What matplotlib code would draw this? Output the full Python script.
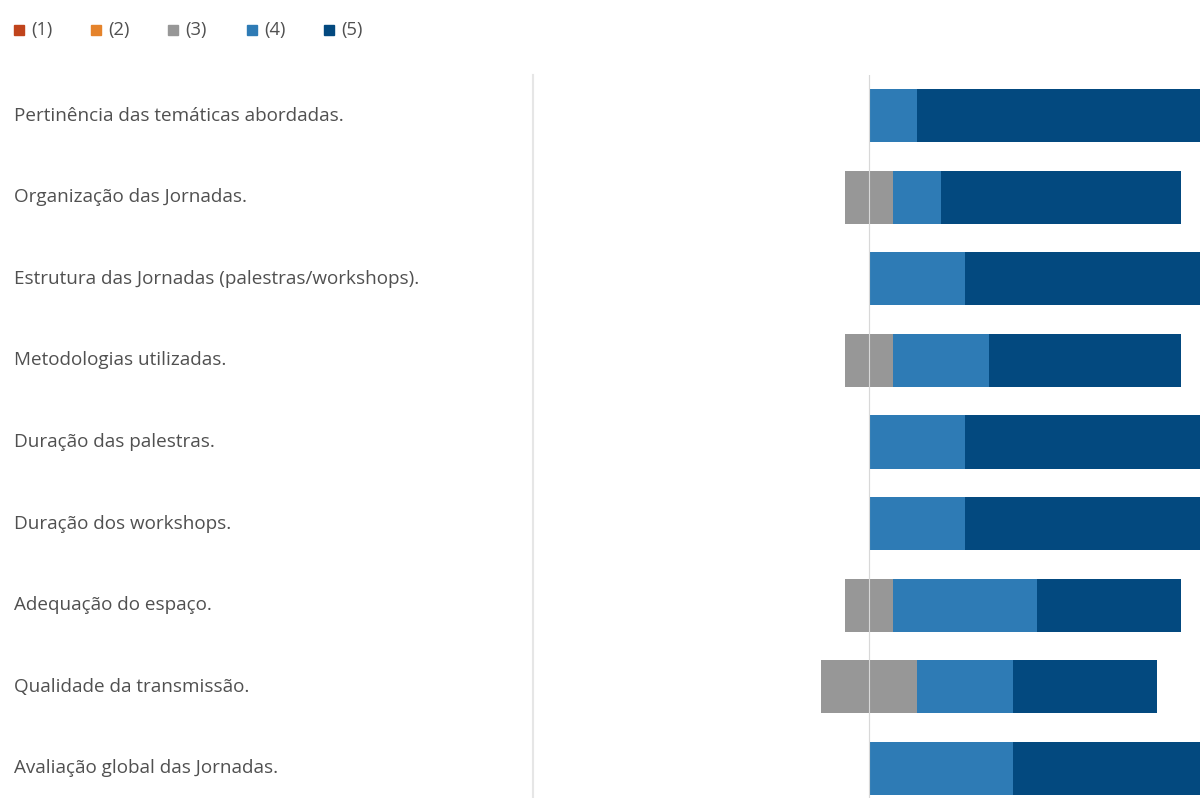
import matplotlib
matplotlib.use("Agg")
import matplotlib.pyplot as plt
from matplotlib.patches import Rectangle
import matplotlib.transforms as mtransforms
import numpy as np

categories = [
    "Pertinência das temáticas abordadas.",
    "Organização das Jornadas.",
    "Estrutura das Jornadas (palestras/workshops).",
    "Metodologias utilizadas.",
    "Duração das palestras.",
    "Duração dos workshops.",
    "Adequação do espaço.",
    "Qualidade da transmissão.",
    "Avaliação global das Jornadas.",
]
legend_labels = ["(1)", "(2)", "(3)", "(4)", "(5)"]
v1 = [0, 0, 0, 0, 0, 0, 0, 0, 0]
v2 = [0, 0, 0, 0, 0, 0, 0, 0, 0]
v3 = [0, 1, 0, 1, 0, 0, 1, 2, 0]
v4 = [1, 1, 2, 2, 2, 2, 3, 2, 3]
v5 = [6, 5, 5, 4, 5, 5, 3, 3, 4]

colors = ["#c0441c", "#e5832b", "#979797", "#2e7bb5", "#03497f"]
text_color = "#505050"
plt.rcParams['font.family'] = ['Open Sans', 'DejaVu Sans']

fig = plt.figure(figsize=(12, 7.98), dpi=100)
ax = fig.add_axes([533/1200, -11/798, 672/1200, 734/798])

n = len(categories)
y = np.arange(n)
h = 0.65
for i in range(n):
    left = -(v1[i] + v2[i] + v3[i] / 2)
    segs = [(v1[i], colors[0]), (v2[i], colors[1]), (v3[i] / 2, colors[2]),
            (v3[i] / 2, colors[2]), (v4[i], colors[3]), (v5[i], colors[4])]
    for w, c in segs:
        if w > 0:
            ax.barh(y[i], w, left=left, height=h, color=c, linewidth=0, zorder=2)
            left += w

ax.axvline(0, color="#d8d8d8", lw=0.8, zorder=3)
ax.axvline(0, color="#f4f4f4", lw=0.8, zorder=1)
ax.set_xlim(-7, 7)
ax.set_ylim(n - 0.5, -0.5)
ax.set_xticks([])
ax.set_yticks([])
for s in ["top", "right", "bottom"]:
    ax.spines[s].set_visible(False)
ax.spines["left"].set_color("#e6e6e6")
ax.spines["left"].set_linewidth(1.5)

trans = mtransforms.blended_transform_factory(fig.transFigure, ax.transData)
for i, c in enumerate(categories):
    ax.text(14/1200, y[i], c, transform=trans, ha="left", va="center",
            fontsize=13.6, color=text_color, clip_on=False)

sq_x = [14, 91, 168, 247, 324]
for k, lab in enumerate(legend_labels):
    fig.patches.append(Rectangle((sq_x[k]/1200, (798-35)/798), 10/1200, 10/798,
                                 transform=fig.transFigure, color=colors[k]))
    fig.text((sq_x[k] + 17)/1200, (798-30)/798, lab, ha="left", va="center",
             fontsize=13.2, color=text_color)

fig.savefig("out.png", dpi=100)
